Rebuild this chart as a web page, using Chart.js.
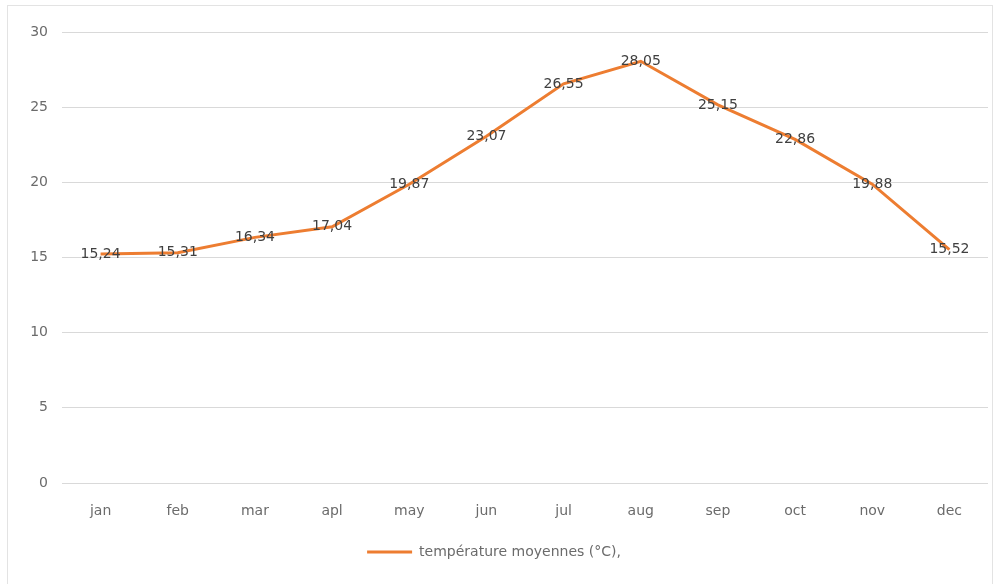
<!DOCTYPE html>
<html>
<head>
<meta charset="utf-8">
<script src="https://cdn.jsdelivr.net/npm/chart.js@4/dist/chart.umd.min.js"></script>
<style>
  html, body { margin: 0; padding: 0; background: #fff; }
  #wrap { width: 1000px; height: 584px; }
</style>
</head>
<body>
<div id="wrap"><canvas id="chart" width="1000" height="584"></canvas></div>
<script>
// monthly mean temperatures
const months = ['jan', 'feb', 'mar', 'apl', 'may', 'jun', 'jul', 'aug', 'sep', 'oct', 'nov', 'dec'];
const temps = [15.24, 15.31, 16.34, 17.04, 19.87, 23.07, 26.55, 28.05, 25.15, 22.86, 19.88, 15.52];
const seriesName = 'température moyennes (°C),';
const yTicks = [0, 5, 10, 15, 20, 25, 30];

const FONT = '"DejaVu Sans", sans-serif';
const ORANGE = '#ED7D31';

// light frame round the whole chart, like the spreadsheet chart area
const frame = {
  id: 'frame',
  beforeDraw(chart) {
    const ctx = chart.ctx;
    ctx.save();
    ctx.strokeStyle = '#e3e3e3';
    ctx.lineWidth = 1;
    ctx.strokeRect(7.5, 5.5, 985, 590);
    ctx.restore();
  },
};

// value labels centred on each point, decimal comma
const valueLabels = {
  id: 'valueLabels',
  afterDatasetsDraw(chart) {
    const ctx = chart.ctx;
    const meta = chart.getDatasetMeta(0);
    ctx.save();
    ctx.font = '14px ' + FONT;
    ctx.fillStyle = '#404040';
    ctx.textAlign = 'center';
    ctx.textBaseline = 'middle';
    meta.data.forEach((pt, i) => {
      const txt = temps[i].toFixed(2).replace('.', ',');
      ctx.fillText(txt, pt.x, pt.y);
    });
    ctx.restore();
  },
};

new Chart(document.getElementById('chart'), {
  type: 'line',
  data: {
    labels: months,
    datasets: [{
      label: seriesName,
      data: temps,
      borderColor: ORANGE,
      backgroundColor: ORANGE,
      borderWidth: 3,
      pointRadius: 0,
      tension: 0,
    }],
  },
  options: {
    responsive: false,
    animation: false,
    layout: { padding: { top: 32, right: 12, bottom: 15, left: 0 } },
    scales: {
      x: {
        offset: true,
        grid: { display: false, drawTicks: false },
        border: { display: false },
        ticks: { color: '#6b6b6b', font: { family: FONT, size: 14 }, padding: 20 },
        afterFit(scale) { scale.height = 46; },
      },
      y: {
        min: 0,
        max: 30,
        afterBuildTicks(scale) { scale.ticks = yTicks.map((v) => ({ value: v })); },
        grid: { color: '#d9d9d9', drawTicks: false },
        border: { display: false },
        ticks: { color: '#6b6b6b', font: { family: FONT, size: 14 }, padding: 14 },
        afterFit(scale) { scale.width = 62; },
      },
    },
    plugins: {
      legend: {
        position: 'bottom',
        labels: {
          color: '#6b6b6b',
          font: { family: FONT, size: 14 },
          usePointStyle: true,
          pointStyle: 'line',
          pointStyleWidth: 45,
          boxWidth: 45,
          padding: 16,
        },
      },
      tooltip: { enabled: false },
    },
  },
  plugins: [frame, valueLabels],
});
</script>
</body>
</html>
